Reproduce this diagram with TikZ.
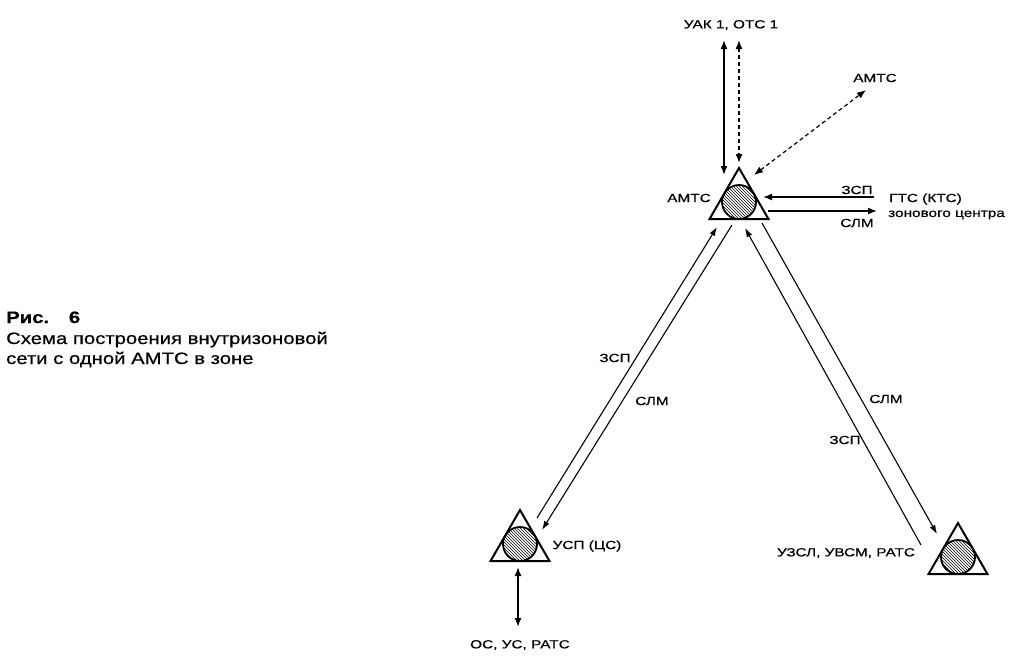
\documentclass[tikz,border=0pt]{standalone}
\usepackage{fontspec}
\setmainfont{Liberation Sans}
\newfontfamily\labfont[FakeStretch=1.3,FakeBold=0.6]{Liberation Sans}
\newfontfamily\capfont[FakeStretch=1.23,FakeBold=0.5]{Liberation Sans}
\usetikzlibrary{arrows.meta,shapes.geometric,patterns}
\tikzset{
  station/.style={regular polygon,regular polygon sides=3,minimum size=68pt,inner sep=0pt,draw,line width=2pt},
  lab/.style={font=\labfont\fontsize{11.8}{13}\selectfont,inner sep=0pt},
  captext/.style={font=\capfont\fontsize{16.5}{18}\selectfont,inner sep=0pt,anchor=base west},
  link/.style={line width=1.6pt,{Latex[length=9pt,width=7pt]}-{Latex[length=9pt,width=7pt]}},
  dlink/.style={line width=1.4pt,dash pattern=on 4pt off 3pt,{Latex[length=9pt,width=7pt]}-{Latex[length=9pt,width=7pt]}},
  oneway/.style={line width=1.5pt,-{Latex[length=9pt,width=7pt]}},
  diagarrow/.style={line width=1.1pt,-{Latex[length=9pt,width=6pt]}}
}
\newcommand{\hatchball}[1]{%
  \fill[pattern=north west lines] (#1.center) circle (17pt);
  \draw[line width=1.8pt] (#1.center) circle (17pt);}
\begin{document}
\begin{tikzpicture}[x=1pt,y=-1pt]
\useasboundingbox (0,0) rectangle (1023,662);
% stations
\node[station] (amts) at (739,202) {};
\node[station] (usp) at (520,544) {};
\node[station] (uzsl) at (958,557) {};
\hatchball{amts}
\hatchball{usp}
\hatchball{uzsl}
% labels
\node[lab] (uak) at (731,25) {УАК 1, ОТС 1};
\node[lab] (amts2) at (875,78) {АМТС};
\node[lab] (amtsl) at (689,198) {АМТС};
\node[lab,anchor=west] (gts) at (889,199) {ГТС (КТС)};
\node[lab,anchor=west] (zon) at (888,215) {зонового центра};
\node[lab] (zsp1) at (857,190) {ЗСП};
\node[lab] (slm1) at (857,223) {СЛМ};
\node[lab] (zsp2) at (615,358) {ЗСП};
\node[lab] (slm2) at (652,401) {СЛМ};
\node[lab] (slm3) at (886,399) {СЛМ};
\node[lab] (zsp3) at (845,440) {ЗСП};
\node[lab] (usplab) at (587,546) {УСП (ЦС)};
\node[lab] (os) at (520,645) {ОС, УС, РАТС};
\node[lab] (uzsllab) at (846,553) {УЗСЛ, УВСМ, РАТС};
% caption
\node[captext,font=\capfont\bfseries\fontsize{16.5}{18}\selectfont] (ris) at (6,323) {Рис.\hspace{1.2em}6};
\node[captext] (cap1) at (6,344) {Схема построения внутризоновой};
\node[captext] (cap2) at (6,364) {сети с одной АМТС в зоне};
% connector end points
\coordinate (s1t) at (724,40);  \coordinate (s1b) at (724,175);
\coordinate (d1t) at (739,40);  \coordinate (d1b) at (739,163);
\coordinate (dg1) at (754,175); \coordinate (dg2) at (866,90);
\coordinate (h1s) at (874,197); \coordinate (h1e) at (763,197);
\coordinate (h2s) at (768,211); \coordinate (h2e) at (877,211);
\coordinate (l1s) at (537,518); \coordinate (l1e) at (717,227);
\coordinate (l2s) at (732,225); \coordinate (l2e) at (542,530);
\coordinate (r1s) at (921,545); \coordinate (r1e) at (745,228);
\coordinate (r2s) at (762,223); \coordinate (r2e) at (937,534);
\coordinate (v1t) at (518,567); \coordinate (v1b) at (518,627);
% connectors
\draw[link] (s1t) -- (s1b);
\draw[dlink] (d1t) -- (d1b);
\draw[dlink,line width=1.2pt] (dg1) -- (dg2);
\draw[oneway] (h1s) -- (h1e);
\draw[oneway] (h2s) -- (h2e);
\draw[diagarrow] (l1s) -- (l1e);
\draw[diagarrow] (l2s) -- (l2e);
\draw[diagarrow] (r1s) -- (r1e);
\draw[diagarrow] (r2s) -- (r2e);
\draw[link] (v1t) -- (v1b);
\end{tikzpicture}
\end{document}
